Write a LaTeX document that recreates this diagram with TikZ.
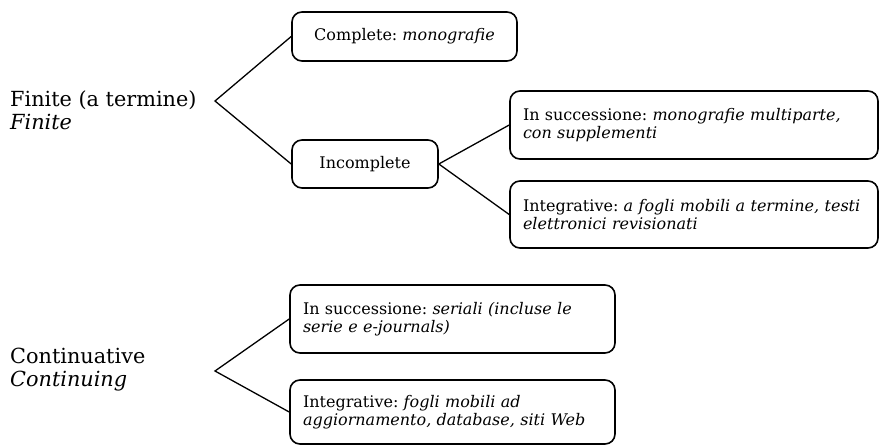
\documentclass[tikz,border=0pt]{standalone}
\usepackage{fontspec}
\setmainfont{DejaVu Serif}
\usetikzlibrary{positioning}
\tikzset{
	catbox/.style={draw, line width=1.6pt, rounded corners=10pt, align=left, inner xsep=13pt,
		font=\fontsize{16}{18.5}\selectfont, anchor=center},
	kind/.style={align=left, anchor=west, inner sep=0pt,
		font=\fontsize{20.8}{23}\selectfont},
	branch/.style={line width=1.3pt}
}
\frenchspacing
\begin{document}
\begin{tikzpicture}[x=1pt, y=-1pt]
	\useasboundingbox (0,0) rectangle (880,446);
	% Gruppi principali
	\node[kind] (finite) at (10,110) {Finite (a termine)\\\textit{Finite}};
	\node[kind] (cont) at (10,370) {Continuative\\\textit{Continuing}};
	\coordinate (finapex) at (215,101);
	\coordinate (contapex) at (215,371);
	% Risorse finite
	\node[catbox, minimum width=225pt, minimum height=49pt] (compl) at (404.5,36.5)
		{Complete: \textit{monografie}};
	\node[catbox, minimum width=146pt, minimum height=48pt, align=center] (incompl)
		at (365,164) {Incomplete};
	\node[catbox, minimum width=368pt, minimum height=68pt, text width=342pt] (succ)
		at (694,125) {In successione: \textit{monografie multiparte,}\\
		\textit{con supplementi}};
	\node[catbox, minimum width=368pt, minimum height=67pt, text width=342pt] (integr)
		at (694,214.5) {\mbox{Integrative: \textit{a fogli mobili a termine, testi}}\\
		\textit{elettronici revisionati}};
	% Risorse continuative
	\node[catbox, minimum width=325pt, minimum height=68pt, text width=299pt] (seriali)
		at (452.5,319) {In successione: \textit{seriali (incluse le}\\
		\textit{serie e e-journals)}};
	\node[catbox, minimum width=325pt, minimum height=64pt, text width=299pt] (web)
		at (452.5,412) {Integrative: \textit{fogli mobili ad}\\
		\textit{aggiornamento, database, siti Web}};
	% Rami
	\draw[branch] (compl.west) -- (finapex) -- (incompl.west);
	\draw[branch] (succ.west) -- (incompl.east) -- (integr.west);
	\draw[branch] (seriali.west) -- (contapex) -- (web.west);
\end{tikzpicture}
\end{document}
